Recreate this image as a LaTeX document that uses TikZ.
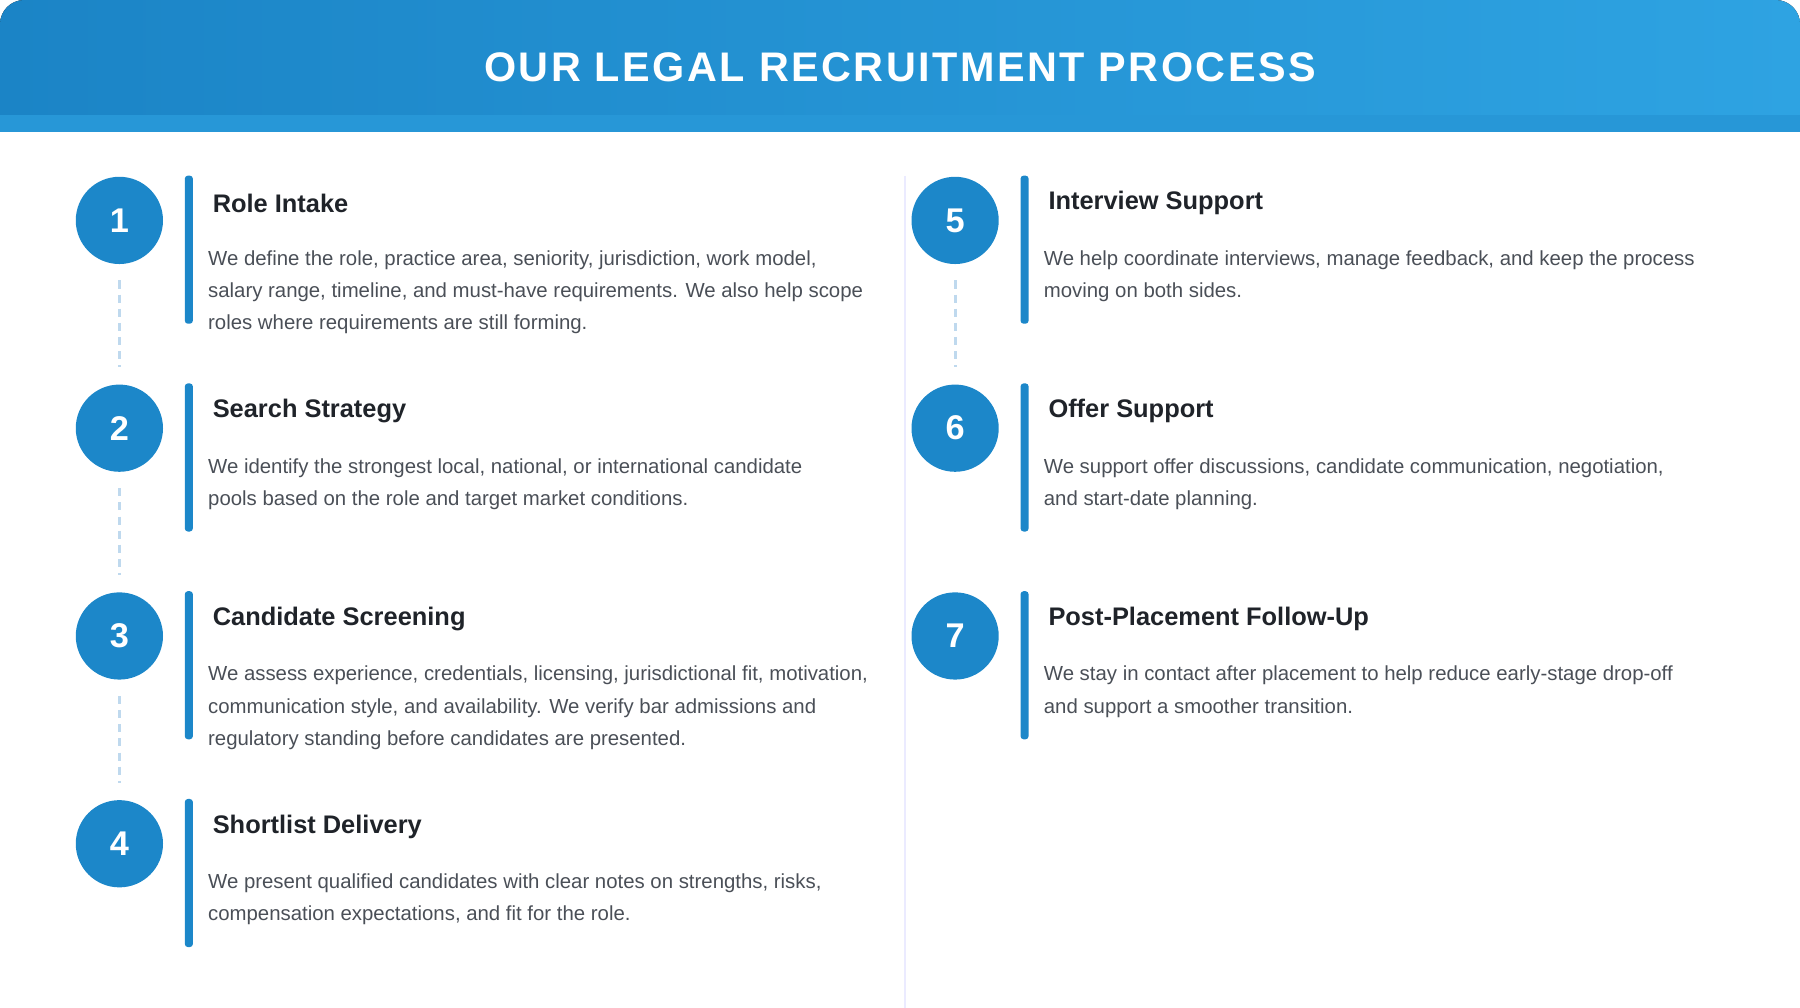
\documentclass[tikz,border=0pt]{standalone}
\usepackage{fontspec}
\setmainfont{Liberation Sans}
\usetikzlibrary{calc}
\definecolor{stepblue}{HTML}{1C87C9}
\definecolor{headL}{HTML}{1B84C6}
\definecolor{headR}{HTML}{2EA3E2}
\definecolor{bodygray}{HTML}{4A4F57}
\definecolor{titleink}{HTML}{1F2329}
\definecolor{dashblue}{HTML}{BFD9EE}
\begin{document}
\begin{tikzpicture}[
        x=0.02cm,y=-0.02cm
        ,stepnum/.style={circle,fill=stepblue,minimum size=1.52cm,inner sep=0pt,
            text=white,font=\fontsize{17}{20}\selectfont\bfseries}
        ,stepbar/.style={fill=stepblue,rounded corners=1.5pt}
        ,steptitle/.style={anchor=west,inner sep=0pt,text=titleink,
            font=\fontsize{12.6}{15}\selectfont\bfseries}
        ,stepbody/.style={anchor=north west,inner sep=0pt,text=bodygray,align=left,
            font=\fontsize{10.1}{15.9}\selectfont}
        ,conn/.style={dashblue,line width=1.6pt,dash pattern=on 4pt off 3pt,
            shorten <=0.28cm,shorten >=0.3cm}
    ]
    \useasboundingbox (0,0) rectangle (1568,878);
    % Kopfzeile
    \fill[left color=headL,right color=headR,rounded corners=12pt]
        (0,0) rectangle (1568,130);
    \fill[headR!60!headL] (0,100) rectangle (1568,115);
    \fill[white] (0,115) rectangle (1568,135);
    \node[text=white,font=\fontsize{20.5}{24}\selectfont\bfseries] (title) at (784,59)
        {\addfontfeature{LetterSpace=6}OUR LEGAL RECRUITMENT PROCESS};
    % Trennlinie
    \draw[blue!8,line width=1pt] (788,153) -- (788,878);
    % Schritte
    \foreach \n/\x/\y/\head/\body in {
        1/104/192/{Role Intake}/{We define the role, practice area, seniority, jurisdiction, work model,\\salary range, timeline, and must-have requirements. We also help scope\\roles where requirements are still forming.},
        2/104/373/{Search Strategy}/{We identify the strongest local, national, or international candidate\\pools based on the role and target market conditions.},
        3/104/554/{Candidate Screening}/{We assess experience, credentials, licensing, jurisdictional fit, motivation,\\communication style, and availability. We verify bar admissions and\\regulatory standing before candidates are presented.},
        4/104/735/{Shortlist Delivery}/{We present qualified candidates with clear notes on strengths, risks,\\compensation expectations, and fit for the role.},
        5/832/192/{Interview Support}/{We help coordinate interviews, manage feedback, and keep the process\\moving on both sides.},
        6/832/373/{Offer Support}/{We support offer discussions, candidate communication, negotiation,\\and start-date planning.},
        7/832/554/{Post-Placement Follow-Up}/{We stay in contact after placement to help reduce early-stage drop-off\\and support a smoother transition.}} {
        \node[stepnum] (c\n) at (\x,\y) {\n};
        \fill[stepbar] ($(\x,\y)+(57,-39)$) rectangle ($(\x,\y)+(64,90)$);
        \node[steptitle] (h\n) at ($(\x,\y)+(81,-15)$) {\head};
        \node[stepbody] (b\n) at ($(\x,\y)+(77,26)$) {\body};
    }
    % Verbindungen
    \foreach \a/\b in {1/2,2/3,3/4,5/6} {
        \draw[conn] (c\a) -- (c\b);
    }
\end{tikzpicture}
\end{document}
